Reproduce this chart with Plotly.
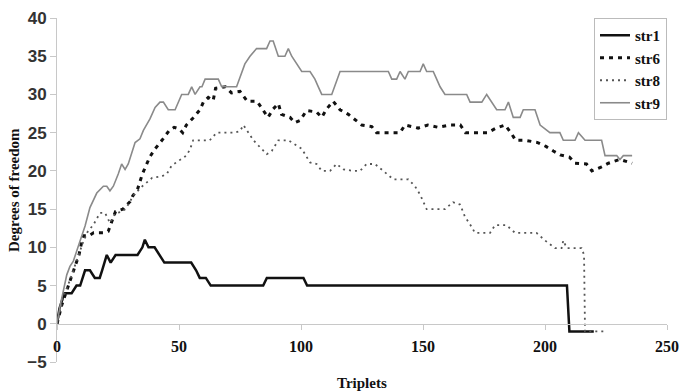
import plotly.graph_objects as go

# ---- data ----
str1_t = [0, 1, 3, 6, 8, 9.5, 11.5, 13.5, 15.5, 17.5, 18.5, 20.4, 22, 24, 33, 35, 36, 37.5, 40, 42, 44,
          55, 57, 58.5, 61, 63, 84.5, 86, 101, 102.5, 209, 210, 220]
str1_v = [0, 2, 4, 4, 5, 5, 7, 7, 6, 6, 7, 9, 8, 9, 9, 10, 11, 10, 10, 9, 8,
          8, 7, 6, 6, 5, 5, 6, 6, 5, 5, -1, -1]

str6_t = [0, 2, 5, 7, 9, 10, 11, 13, 15, 19, 21, 24, 27, 30, 31, 33, 35, 38, 40, 43, 46, 48, 50, 51.5,
          53, 56, 58.6, 60, 62, 64, 65, 69, 71.5, 75, 78, 82, 84.5, 86.5, 88.6, 90.7, 92, 95.5, 97.5,
          99.6, 102.3, 106.4, 108.5, 110.5, 113.2, 116, 119.4, 122.8, 124.9, 129, 131, 140.6, 142.6,
          148, 152, 156.3, 161, 165.3, 167.4, 176.4, 180, 183.6, 186, 188, 192, 197, 200.4, 203.4,
          206.2, 210, 212.3, 217, 219.2, 223, 226, 230.7, 235.7]
str6_v = [0, 2.5, 5.3, 7.3, 9, 10.5, 11.5, 11.5, 11.9, 11.9, 12.1, 14.7, 15, 16, 16.7, 17.6, 19.6, 21.8,
          22.8, 24, 25.3, 25.7, 25.5, 25, 26, 27, 28, 29, 29.6, 29.2, 30.8, 31, 30.2, 30.4, 29.1, 29.1,
          27.9, 27, 28.1, 28.8, 27.4, 27, 26.3, 26.6, 27.9, 27.7, 27, 28.1, 29.1, 28, 27.4, 26.6, 26,
          25.8, 25, 25, 26, 25.6, 26, 25.7, 26, 26, 25, 25, 25.6, 26, 25, 24, 24, 23.7, 23.2, 22.6,
          22.1, 21.8, 21, 20.9, 20, 20.5, 21, 21.5, 21]

str8_t = [0, 2.6, 5.3, 8.7, 10.5, 12.5, 15, 17.6, 19.7, 21.7, 24, 26, 28, 30, 31, 35, 39, 43, 45, 47,
          50, 53, 54.5, 55.8, 62.6, 65.4, 72.7, 75, 76.4, 78.4, 80.5, 83.2, 86, 88, 90.7, 94.8, 97.5,
          100.3, 103.7, 106.4, 108.5, 111.9, 114.6, 117.4, 121.4, 124.2, 126.9, 130.3, 133.7, 137.8,
          144, 146.7, 148.8, 150.1, 151.5, 159, 162.3, 165.2, 167.2, 169.3, 171.3, 177.5, 179.5,
          184.2, 187.7, 196.5, 200, 204.1, 206.8, 207.5, 208.9, 215, 216, 216.4, 225.3]
str8_v = [0, 3.5, 5.7, 8.8, 10.5, 12, 13, 14.5, 14.5, 13.2, 14.5, 14.6, 15, 16, 16.7, 18, 19.1, 19.3,
          19.6, 20.7, 21.3, 22, 22.8, 24, 24, 25, 25, 25.2, 26, 25, 24, 23.1, 22.2, 22.6, 24, 24, 23.5,
          22.9, 21.1, 20.9, 20, 20, 20.9, 20.2, 20, 20, 20.9, 20.9, 20, 18.9, 18.9, 18, 16.9, 16, 15,
          15, 15.9, 15.6, 14, 13, 11.9, 11.9, 12.9, 12.9, 11.9, 11.9, 10.9, 9.9, 9.9, 10.9, 9.9, 9.9,
          9, -1, -1]

str9_t = [0, 1.2, 4, 5.3, 6.7, 9.4, 11.5, 13.5, 16.3, 19, 20.4, 21.7, 23.1, 25.1, 26.5, 27.9, 29.2,
          32, 34, 35.4, 38.1, 40.2, 42.2, 43.6, 45.6, 48.4, 51.1, 53.8, 55.2, 56.6, 58.6, 59.4, 60.7,
          66.1, 67.5, 73.6, 75.7, 77, 79.1, 81.8, 85.9, 87.3, 88.6, 90.7, 93.4, 94.8, 96.2, 98.2,
          100.3, 103.7, 105.7, 107.1, 108.5, 112.6, 116, 135.8, 137.2, 139.2, 140.6, 142.6, 144,
          148.8, 150.1, 151.5, 154.2, 155.6, 157, 159, 167.9, 169.3, 174.1, 176.1, 178.2, 180.2,
          183.6, 185, 187, 189.8, 191.1, 195.9, 198, 202, 206.1, 207.5, 212.3, 213.7, 216.4, 223.2,
          224.6, 229.4, 230.7, 232.1, 235.7]
str9_v = [0, 2.2, 6.4, 7.5, 8.2, 10.8, 12.8, 15.2, 17.1, 18, 18, 17.4, 18, 19.6, 20.9, 20.2, 20.9,
          23.7, 24.2, 25.3, 26.8, 28.3, 29, 29, 28, 28, 30, 30, 31, 30, 31, 31, 32,
          32, 31, 31, 33, 34, 35, 36, 36, 37, 37, 35, 35, 36, 35, 34,
          33, 33, 32, 31, 30, 30, 33, 33, 32, 32, 33, 32, 33,
          33, 34, 33, 33, 32, 31, 30, 30, 29, 29, 30, 29, 28,
          28, 29, 27, 27, 28, 28, 26, 25, 25, 24, 24, 25, 24, 24,
          22, 22, 21.5, 22, 22]

x_ticks = [0, 50, 100, 150, 200, 250]
y_ticks = [-5, 0, 5, 10, 15, 20, 25, 30, 35, 40]

SERIF = "Liberation Serif"
SANS = "Liberation Sans"

fig = go.Figure()
fig.add_trace(go.Scatter(x=str1_t, y=str1_v, mode="lines", name="str1",
                         line=dict(color="#111111", width=2.5)))
fig.add_trace(go.Scatter(x=str6_t, y=str6_v, mode="lines", name="str6",
                         line=dict(color="#111111", width=3, dash="4px,5px")))
fig.add_trace(go.Scatter(x=str8_t, y=str8_v, mode="lines", name="str8",
                         line=dict(color="#555555", width=1.8, dash="2px,4px")))
fig.add_trace(go.Scatter(x=str9_t, y=str9_v, mode="lines", name="str9",
                         line=dict(color="#8a8a8a", width=1.6)))

fig.update_layout(
    width=680, height=392,
    margin=dict(l=57, r=13, t=18, b=30, autoexpand=False),
    paper_bgcolor="white", plot_bgcolor="white",
    showlegend=True,
    legend=dict(x=1, y=1, xanchor="right", yanchor="top",
                bordercolor="#bbbbbb", borderwidth=1, bgcolor="white",
                font=dict(family=SERIF, size=15, color="#111111", weight="bold"),
                tracegroupgap=0, itemwidth=30),
    xaxis=dict(range=[0, 250], tickvals=x_ticks, showgrid=False, zeroline=False,
               showline=True, linecolor="#c8c8c8", linewidth=1,
               ticks="outside", ticklen=5, tickcolor="#c8c8c8", automargin=False,
               anchor="free", position=5 / 45, ticklabelstandoff=3,
               tickfont=dict(family=SERIF, size=16, color="#111111", weight="bold")),
    yaxis=dict(range=[-5, 40], tickvals=y_ticks, showgrid=False, zeroline=False,
               showline=True, linecolor="#c8c8c8", linewidth=1, automargin=False,
               ticks="outside", ticklen=6, tickcolor="#c8c8c8",
               tickfont=dict(family=SANS, size=17, color="#333333", weight="bold")),
    annotations=[
        dict(text="Triplets", xref="paper", yref="paper", x=0.5, y=0, yshift=-21,
             xanchor="center", yanchor="middle", showarrow=False,
             font=dict(family=SERIF, size=15, color="#111111", weight="bold")),
        dict(text="Degrees of freedom", xref="paper", yref="paper", x=0, xshift=-43,
             y=0.5, textangle=-90, xanchor="center", yanchor="middle", showarrow=False,
             font=dict(family=SERIF, size=15, color="#111111", weight="bold")),
    ],
)

fig.write_html("out.html", config={"displayModeBar": False},
               post_script="document.body.style.margin='0px';document.body.style.padding='0px';")
